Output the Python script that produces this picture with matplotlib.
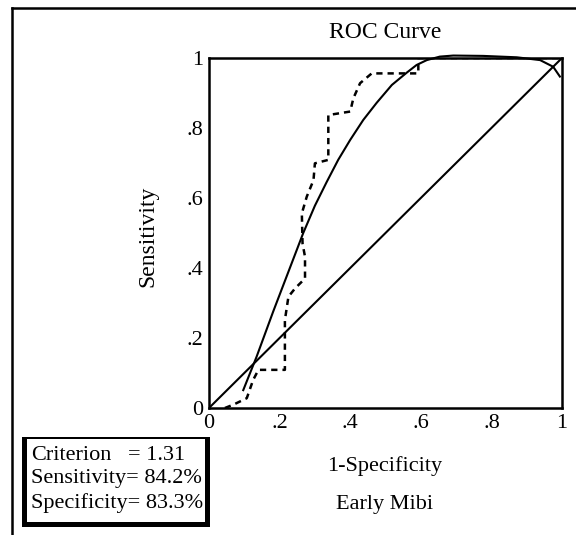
#!/usr/bin/env python

import matplotlib
matplotlib.use('Agg')
import matplotlib.pyplot as plt
from matplotlib.patches import Rectangle
from matplotlib.lines import Line2D

plt.rcParams['font.family'] = ['Liberation Serif', 'DejaVu Serif']

W, H = 576, 535

# chance line
diag_x = [0, 1]
diag_y = [0, 1]

# fitted (smooth) roc curve
fit_x = [0.097, 0.135, 0.182, 0.267, 0.30, 0.333, 0.366, 0.40, 0.437, 0.475,
         0.518, 0.56, 0.588, 0.617, 0.654, 0.692, 0.777, 0.872, 0.938, 0.975,
         0.994]
fit_y = [0.051, 0.147, 0.276, 0.50, 0.578, 0.645, 0.709, 0.766, 0.823, 0.872,
         0.923, 0.958, 0.98, 0.994, 1.004, 1.007, 1.006, 1.002, 0.994, 0.975,
         0.947]

# empirical roc curve (dashed steps)
emp_x = [0.045, 0.07, 0.107, 0.125, 0.14, 0.215, 0.215, 0.225, 0.244, 0.272,
         0.272, 0.265, 0.263, 0.277, 0.296, 0.30, 0.338, 0.338, 0.40, 0.409,
         0.428, 0.461, 0.593, 0.593, 1.0]
emp_y = [0.0, 0.01, 0.028, 0.08, 0.109, 0.109, 0.251, 0.318, 0.342, 0.37,
         0.432, 0.47, 0.556, 0.604, 0.651, 0.699, 0.709, 0.837, 0.847, 0.885,
         0.928, 0.956, 0.956, 1.0, 1.0]

ticks = [0, 0.2, 0.4, 0.6, 0.8, 1]
tick_labels = ['0', '.2', '.4', '.6', '.8', '1']

stats = [('Criterion', '= 1.31'),
         ('Sensitivity', '= 84.2%'),
         ('Specificity', '= 83.3%')]


def fx(px):
    return px / W


def fy(py):
    return 1 - py / H


fig = plt.figure(figsize=(W / 100, H / 100), dpi=100)
ax = fig.add_axes([fx(209), fy(408), (562 - 209) / W, (408 - 58) / H])

ax.plot(diag_x, diag_y, color='black', linewidth=1.5)
ax.plot(fit_x, fit_y, color='black', linewidth=1.5, clip_on=False)
ax.plot(emp_x, emp_y, color='black', linewidth=1.8, linestyle=(0, (2.5, 2)))

ax.set_xlim(0, 1)
ax.set_ylim(0, 1)
ax.set_xticks(ticks)
ax.set_xticklabels(tick_labels)
ax.set_yticks(ticks)
ax.set_yticklabels(tick_labels)
ax.tick_params(length=0, labelsize=16, pad=4)
for s in ax.spines.values():
    s.set_linewidth(1.8)

fig.text(fx(385), fy(33), 'ROC Curve', ha='center', va='center', fontsize=17)
fig.text(fx(385), fy(466), '1-Specificity', ha='center', va='center', fontsize=16)
fig.text(fx(385), fy(504), 'Early Mibi', ha='center', va='center', fontsize=16)
fig.text(fx(148), fy(236), 'Sensitivity', ha='center', va='center',
         rotation=90, fontsize=17)

# outer frame (top and left edges only visible)
fig.add_artist(Line2D([fx(12), 1], [fy(8), fy(8)], color='black', linewidth=1.8))
fig.add_artist(Line2D([fx(12), fx(12)], [fy(8), 0], color='black', linewidth=1.8))

# stats box with shadow
fig.add_artist(Rectangle((fx(22), fy(527)), (210 - 22) / W, (527 - 437) / H,
                         transform=fig.transFigure, facecolor='black',
                         edgecolor='none'))
fig.add_artist(Rectangle((fx(27), fy(522)), (205 - 27) / W, (522 - 439) / H,
                         transform=fig.transFigure, facecolor='white',
                         edgecolor='none'))
for i, (name, val) in enumerate(stats):
    y = 455 + i * 24
    if name == 'Criterion':
        fig.text(fx(31), fy(y), name, ha='left', va='center', fontsize=16)
        fig.text(fx(128), fy(y), val, ha='left', va='center', fontsize=16)
    else:
        fig.text(fx(31), fy(y), name + val, ha='left', va='center', fontsize=16)

fig.savefig('out.png', dpi=100)
